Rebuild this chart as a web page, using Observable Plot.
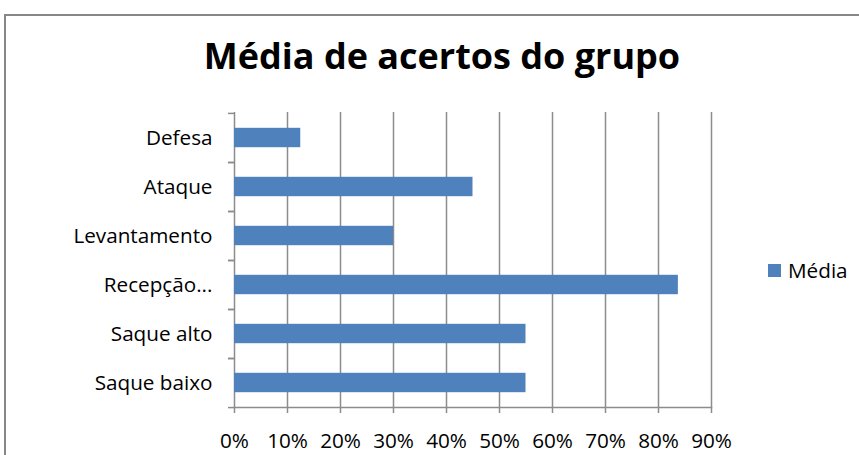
<!DOCTYPE html>
<html><head><meta charset="utf-8">
<script src="https://cdn.jsdelivr.net/npm/d3@7"></script>
<script src="https://cdn.jsdelivr.net/npm/@observablehq/plot@0.6"></script>
<style>
body{margin:0;background:#fff;}
#wrap{position:relative;width:859px;height:455px;overflow:hidden;font-family:"Open Sans",sans-serif;background:#fff;}
#border{position:absolute;left:4px;top:14px;width:900px;height:500px;border-left:2px solid #878787;border-top:2px solid #878787;}
#title{position:absolute;left:0;width:884px;top:31px;text-align:center;font-weight:700;font-size:36px;color:#000;line-height:50px;white-space:nowrap;}
#chart{position:absolute;left:0;top:0;}
#legend{position:absolute;left:768px;top:257px;font-size:20.7px;line-height:27px;color:#000;display:flex;align-items:center;}
#legend .sw{width:13px;height:13px;background:#4F81BD;margin-right:7px;display:inline-block;}
</style></head>
<body>
<div id="wrap">
  <div id="border"></div>
  <div id="chart"></div>
  <div id="title">Média de acertos do grupo</div>
  <div id="legend"><span class="sw"></span><span>Média</span></div>
</div>
<script>
const categories = ["Defesa", "Ataque", "Levantamento", "Recepção...", "Saque alto", "Saque baixo"];
const values = [0.125, 0.45, 0.30, 0.8375, 0.55, 0.55];
const xTicks = [0, 0.1, 0.2, 0.3, 0.4, 0.5, 0.6, 0.7, 0.8, 0.9];
const seriesName = "Média";

const data = categories.map((c, i) => ({categoria: c, media: values[i]}));
const plotTop = 112, plotBottom = 407;
const band = (plotBottom - plotTop) / categories.length;
const grey = "#8c8c8c";

const chart = Plot.plot({
  width: 859, height: 455,
  marginTop: plotTop, marginBottom: 455 - plotBottom, marginLeft: 234, marginRight: 148,
  style: {fontFamily: '"Open Sans", sans-serif', fontSize: "20.7px", color: "#000", background: "transparent"},
  x: {domain: [0, 0.9]},
  y: {domain: categories, padding: 0},
  marks: [
    Plot.gridX(xTicks, {stroke: grey, strokeOpacity: 1, strokeWidth: 1.5}),
    Plot.barX(data, {x: "media", y: "categoria", fill: "#4F81BD", insetTop: 14.8, insetBottom: 14.8}),
    Plot.frame({anchor: "bottom", stroke: grey, strokeWidth: 1.5}),
    Plot.axisX({ticks: xTicks, tickFormat: d3.format(".0%"), tickSize: 6, tickPadding: 20, stroke: grey, strokeWidth: 1.5, fill: "#000", label: null}),
    Plot.axisY({tickSize: 0, tickPadding: 22, fill: "#000", label: null}),
    Plot.axisY({text: null, tickSize: 6, dy: -band / 2, stroke: grey, strokeWidth: 1.5, label: null}),
    Plot.axisY({text: null, tickSize: 6, dy: band / 2, stroke: grey, strokeWidth: 1.5, label: null})
  ]
});
document.getElementById("chart").appendChild(chart);
document.querySelector("#legend span:last-child").textContent = seriesName;
</script>
</body></html>
